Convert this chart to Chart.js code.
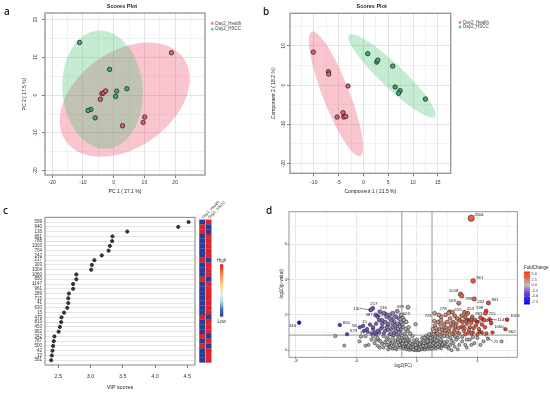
<!DOCTYPE html>
<html lang="en">
<head>
<meta charset="UTF-8">
<title>Scores plots, VIP scores and volcano plot</title>
<script src="https://cdn.jsdelivr.net/npm/chart.js"></script>
<style>
  body { margin: 0; background: #fff; }
  #page { position: relative; width: 550px; height: 394px; overflow: hidden; }
  #page canvas { position: absolute; left: 0; top: 0; }
  .tag { position: absolute; font-family: "Noto Sans", sans-serif; font-size: 10px; font-weight: 500; color: #111; line-height: 1; }
</style>
</head>
<body>
<div id="page">
  <canvas id="chartA" width="550" height="394"></canvas>
  <canvas id="chartB" width="550" height="394"></canvas>
  <canvas id="chartC" width="550" height="394"></canvas>
  <canvas id="chartD" width="550" height="394"></canvas>
  <div class="tag" style="left:4px;top:6px">a</div>
  <div class="tag" style="left:263px;top:6px">b</div>
  <div class="tag" style="left:3px;top:205px">c</div>
  <div class="tag" style="left:266px;top:205px">d</div>
</div>
<script>
// ---- panel a : PCA scores
const aHealthX = [18.8, -3.8, -3.3, -2.6, -4.3, 2.9, 10.1, 9.6];
const aHealthY = [11.2, 0.4, 0.6, 1.1, -1.1, -8.1, -5.8, -7.2];
const aHsccX = [-11.1, -1.3, 1.0, 4.3, 0.65, -7.4, -8.3, -6.0];
const aHsccY = [13.9, 6.8, 1.06, 1.7, -0.35, -3.8, -4.05, -6.0];
// confidence ellipse: centre x, centre y, then two conjugate semi-axes (data units)
const aEllHealth = [3.6, -1.2, 19.15, 10.93, -8.93, 10.4];
const aEllHscc = [-3.6, 1.45, 12.8, 2.26, -2.73, 15.46];

// ---- panel b : PLS-DA scores
const bHealthX = [-10.1, -7.05, -7.0, -3.1, -4.1, -5.3, -3.96, -3.56];
const bHealthY = [8.4, 3.4, 2.8, -0.25, -7.05, -8.15, -8.15, -8.0];
const bHsccX = [0.87, 2.68, 2.9, 5.9, 6.4, 7.4, 7.1, 12.5];
const bHsccY = [8.0, 5.86, 6.37, 4.84, -0.5, -1.44, -2.1, -3.57];
const bEllHealth = [-5.54, -2.25, -4.87, 15.85, 2.5, 1.23];
const bEllHscc = [5.77, 2.34, -8.66, 10.4, 1.62, 2.16];

const groupNames = ['Day2_Health', 'Day2_HSCC'];

// ---- panel c : VIP scores (top 30) and group heat strip
const vipIds = ['599','940','136','861','788','1003','704','242','217','303','1004','1060','850','1147','961',
  '289','715','41','630','15','479','813','453','962','342','787','500','42','33','561'];
const vipScores = [4.52, 4.36, 3.57, 3.34, 3.335, 3.30, 3.28, 3.175, 3.06, 3.02, 3.01, 2.78, 2.78, 2.73, 2.73,
  2.665, 2.655, 2.655, 2.64, 2.59, 2.55, 2.545, 2.525, 2.505, 2.44, 2.43, 2.42, 2.41, 2.40, 2.39];
// 1 = high in Day2_Health (then low in Day2_HSCC), 0 = the other way
const vipHealthHigh = [0,1,1,0,0,0,0,0,1,0,0,0,1,0,0,0,0,0,0,0,1,0,0,0,1,0,1,0,0,0];

// ---- panel d : volcano plot
const volIds = ['2004','961','1018','788','569','242','861','278','656','453','599','715','963','1003','1147',
  '813','1060','962','704','785','25','728','217','130','136','387','500','499','603','850','15','58','673','37','940'];
const volX = [3.59, 3.72, 2.88, 2.97, 2.77, 3.79, 4.73, 2.16, 3.15, 3.37, 4.58, 4.53, 3.66, 5.97, 4.80,
  4.36, 4.91, 5.85, 2.82, 3.59, 4.14, 1.17, -2.92, -3.06, -2.46, -2.73, -2.07, -0.59, -0.94, -5.10, -3.56, -3.78, -4.62, -3.25, -7.79];
const volY = [7.47, 3.92, 3.17, 3.07, 2.66, 2.90, 2.68, 2.18, 2.15, 2.09, 2.22, 2.09, 1.88, 1.73, 1.75,
  1.75, 1.53, 1.19, 1.71, 1.71, 1.05, 2.09, 2.37, 2.28, 2.18, 2.0, 2.05, 2.43, 1.83, 1.43, 1.38, 1.30, 0.91, 1.04, 1.56];
// unlabelled features [log2FC, -log10 p]
const volOther = [
  [-1.4,0.55],[-1.2,0.4],[-1.0,0.3],[-0.8,0.2],[-0.6,0.1],[-0.4,0.05],[-0.2,0.02],[0,0.01],[0.2,0.03],[0.4,0.06],
  [0.6,0.12],[0.8,0.2],[1.0,0.28],[1.2,0.38],[1.4,0.5],[-1.3,0.2],[-1.1,0.15],[-0.9,0.1],[-0.7,0.05],[-0.5,0.02],
  [-0.3,0.12],[-0.1,0.08],[0.1,0.1],[0.3,0.15],[0.5,0.04],[0.7,0.06],[0.9,0.1],[1.1,0.15],[1.3,0.22],[-1.5,0.35],
  [-1.25,0.6],[-1.05,0.5],[-0.85,0.42],[-0.65,0.3],[-0.45,0.22],[-0.25,0.18],[-0.05,0.22],[0.15,0.25],[0.35,0.3],[0.55,0.35],
  [0.75,0.42],[0.95,0.48],[1.15,0.55],[1.35,0.7],[-0.95,0.65],[-0.75,0.55],[-0.55,0.45],[-0.35,0.35],[-0.15,0.4],[0.05,0.42],
  [0.25,0.45],[0.45,0.52],[0.65,0.6],[0.85,0.68],[1.05,0.75],[-0.5,0.6],[0.0,0.6],[0.35,0.68],[-0.2,0.55],[0.6,0.8],
  [-1.6,0.1],[1.6,0.12],[-1.8,0.2],[1.8,0.25],[-0.15,0.0],[0.1,0.0],[-1.35,0.05],[-1.15,0.3],[-0.9,0.25],[-0.6,0.18],
  [-0.35,0.08],[0.05,0.15],[0.3,0.05],[0.5,0.2],[0.75,0.3],[1.0,0.08],[1.25,0.1],[1.5,0.3],[-1.7,0.4],[1.7,0.45],
  [-0.8,0.35],[0.85,0.35],[-0.45,0.4],[0.45,0.4],[-1.0,0.7],[1.0,0.6],[-1.25,0.8],[1.2,0.9],[-0.1,0.3],[0.2,0.35],
  [-1.9,0.3],[-1.75,0.15],[-1.55,0.22],[-1.45,0.12],[-1.25,0.45],[-1.1,0.55],[-0.95,0.38],[-0.7,0.4],[-0.55,0.28],[-0.4,0.15],
  [-0.25,0.05],[-0.05,0.12],[0.15,0.05],[0.25,0.2],[0.4,0.25],[0.6,0.25],[0.7,0.5],[0.9,0.55],[1.1,0.4],[1.25,0.3],
  [1.45,0.15],[1.65,0.3],[1.9,0.4],[2.05,0.2],[1.55,0.45],[-2.1,0.45],[-2.3,0.35],[-1.95,0.7],[-1.55,0.85],[-0.9,0.55],
  [-0.65,0.65],[0.5,0.7],[0.75,0.75],[1.3,0.55],[1.6,0.8],[2.3,0.55],[2.5,0.8],[2.7,0.7],[-2.5,0.55],[-2.7,0.6],
  [-1.6,0.7],[-1.8,0.9],[-2.0,0.6],[-2.2,0.8],[-2.4,0.5],[-2.6,0.7],[-2.8,0.4],[-3.0,0.6],[-1.5,1.0],[-1.7,1.2],
  [-1.9,1.4],[-2.1,1.1],[-2.3,1.3],[-2.5,1.0],[-2.7,0.9],[-1.3,0.9],[-1.1,1.1],[-0.9,1.3],[-1.2,1.45],[-1.4,1.25],
  [-2.0,0.3],[-2.2,0.15],[-1.9,0.05],[-2.6,0.25],[-3.2,0.3],[-3.4,0.8],[-3.7,0.77],[-3.4,0.26],[-4.8,0.26],[-5.4,0.8],
  [-2.9,1.2],[-1.0,0.85],[-0.8,0.95],[-0.6,1.1],[-0.7,0.75],[-1.6,0.45],[-1.8,0.55],[-2.45,0.15],
  [-0.95,1.5],[-0.75,1.2],[-0.55,1.3],[-0.85,1.7],[-0.7,1.6],[-0.45,0.95],[-0.3,0.8],[-3.8,0.5],[-2.9,0.8],
  [1.6,0.6],[1.8,0.8],[2.0,0.5],[2.2,0.7],[2.4,0.4],[2.6,0.6],[2.8,0.3],[3.0,0.5],[1.5,0.9],[1.7,0.35],
  [1.9,0.2],[2.1,0.1],[2.3,0.0],[2.5,0.2],[1.4,0.2],[1.2,0.8],[1.0,0.95],[0.9,0.7],[1.3,1.0],[3.2,0.3],
  [3.5,0.6],[3.8,0.4],[4.0,0.7],[4.4,0.5],[5.6,0.5],[3.3,0.15],[2.7,0.05],[3.0,0.75],[2.2,0.3],[2.0,0.8],
  [1.8,0.45],[4.7,0.65],[3.7,0.75],[4.2,0.3],[-0.09,1.47],[3.3,0.6],[3.6,0.3],[0.8,0.9],
  [-1.2,1.0],[-1.4,1.1],[-1.6,1.3],[-1.1,1.3],[-1.3,1.5],[-1.5,1.6],[-1.7,1.7],[-1.9,1.5],[-2.1,1.6],[-2.3,1.5],
  [-2.5,1.7],[-2.7,1.5],[-2.9,1.3],[-3.1,1.45],[-3.3,1.2],[-2.0,1.9],[-1.8,2.0],[-1.6,2.1],[-1.4,1.9],[-1.2,1.8],
  [-1.05,1.6],[-1.05,2.0],[-1.3,2.2],[-2.2,2.1],[-2.4,1.2],[-2.6,1.1],[-2.8,1.0],[-3.0,0.95],[-1.7,0.95],[-2.2,0.95],
  [-1.9,1.15],[-1.1,1.2],[-1.6,1.5],[-1.45,1.4],[-1.25,1.2],[-1.15,1.35],[-2.3,1.7],[-2.0,1.3],[-1.8,1.8],[-2.6,1.9],
  [-1.5,1.85],[-1.1,1.75],[-3.5,1.1],
  [1.1,0.9],[1.3,1.1],[1.5,1.2],[1.7,1.0],[1.9,1.3],[2.1,1.1],[2.3,1.4],[2.5,1.2],[2.7,1.0],[2.9,1.3],
  [3.1,1.1],[3.3,1.5],[3.5,1.3],[3.7,1.0],[3.9,1.4],[4.1,1.2],[4.3,1.0],[4.5,1.3],[1.2,1.4],[1.4,1.6],
  [1.6,1.7],[1.8,1.5],[2.0,1.6],[2.2,1.8],[2.4,1.6],[2.6,1.5],[2.8,1.7],[3.0,1.6],[3.2,1.9],[3.4,1.7],
  [2.0,0.95],[2.4,0.9],[2.8,0.95],[3.2,0.9],[3.6,0.95],[4.0,0.9],[4.6,0.95],[5.0,1.0],[1.6,1.9],[1.9,2.0],
  [2.1,2.1],[2.5,1.95],[3.6,1.55],[4.0,1.6],[1.35,0.95],[1.75,1.25],[2.55,1.35],[3.05,1.35],[1.05,1.2],[1.15,1.65],
  [1.45,2.0],[2.35,2.15],[3.4,1.0],[4.3,1.45],[1.25,1.25],[1.55,1.45],[1.85,1.1],[2.15,1.25],[2.45,1.05],[2.75,1.25],
  [3.15,1.25],[3.45,1.15],[3.75,1.25],[2.65,1.8],[2.95,1.95],[3.25,1.65],[1.65,1.15],[2.25,1.5],[3.85,1.7],[4.2,1.85],
  [4.45,1.7],[2.3,0.95]
];
const volFcCut = 1;      // |log2FC| lines
const volPCut = 0.85;    // p-value line
const foldTicks = [5.0, 2.5, 0.0, -2.5, -5.0, -7.5];

// ------------------------------------------------------------------
const FONT = '"Liberation Sans", Arial, sans-serif';
Chart.defaults.font.family = FONT;

const frame = {
  id: 'frame',
  afterDraw(chart, args, o) {
    const {ctx, chartArea: a} = chart;
    ctx.save();
    ctx.strokeStyle = o.color;
    ctx.lineWidth = o.width;
    ctx.strokeRect(a.left, a.top, a.right - a.left, a.bottom - a.top);
    ctx.restore();
  }
};

const ellipses = {
  id: 'ellipses',
  beforeDatasetsDraw(chart, args, o) {
    const {ctx, chartArea: a, scales} = chart;
    ctx.save();
    ctx.beginPath();
    ctx.rect(a.left, a.top, a.right - a.left, a.bottom - a.top);
    ctx.clip();
    o.items.forEach(it => {
      const [cx, cy, ux, uy, vx, vy] = it.e;
      ctx.beginPath();
      for (let k = 0; k <= 120; k++) {
        const t = k / 120 * Math.PI * 2;
        const px = scales.x.getPixelForValue(cx + ux * Math.cos(t) + vx * Math.sin(t));
        const py = scales.y.getPixelForValue(cy + uy * Math.cos(t) + vy * Math.sin(t));
        if (k) ctx.lineTo(px, py); else ctx.moveTo(px, py);
      }
      ctx.closePath();
      ctx.fillStyle = it.fill;
      ctx.fill();
    });
    ctx.restore();
  }
};

// free text + legend dots
const notes = {
  id: 'notes',
  afterDraw(chart, args, o) {
    const ctx = chart.ctx;
    (o.items || []).forEach(n => {
      ctx.save();
      ctx.translate(n.x, n.y);
      if (n.dot) {
        ctx.beginPath();
        ctx.arc(0, 0, 1.6, 0, Math.PI * 2);
        ctx.fillStyle = n.dot;
        ctx.fill();
      } else {
        if (n.rot) ctx.rotate(n.rot * Math.PI / 180);
        ctx.font = n.font;
        ctx.fillStyle = n.color || '#222';
        ctx.textAlign = n.align || 'left';
        ctx.textBaseline = 'middle';
        ctx.fillText(n.text, 0, 0);
      }
      ctx.restore();
    });
  }
};

function linAxis(o) {
  const isMajor = v => Math.abs(v / o.major - Math.round(v / o.major)) < 1e-6;
  return {
    type: 'linear', min: o.min, max: o.max, reverse: !!o.reverse,
    ticks: {
      stepSize: o.step, includeBounds: false, autoSkip: false,
      font: {size: o.fs}, color: '#333', padding: o.pad,
      minRotation: o.rot || 0, maxRotation: o.rot || 0, crossAlign: o.cross || 'near',
      callback: o.label || (v => isMajor(v) ? v : '')
    },
    grid: {
      display: true, drawTicks: o.tl > 0, tickLength: o.tl, lineWidth: 0.8,
      color: o.gridFn || (c => o.noGrid ? 'rgba(0,0,0,0)' : (isMajor(c.tick.value) ? o.gMajor : o.gMinor)),
      tickColor: c => isMajor(c.tick.value) ? '#555' : 'rgba(0,0,0,0)'
    },
    border: {display: false},
    title: {display: !!o.title, text: o.title, font: {size: o.tfs}, color: '#222', padding: 0},
    afterFit: s => { if (s.isHorizontal()) s.height = o.size; else s.width = o.size; }
  };
}

const zip = (xs, ys) => xs.map((x, i) => ({x, y: ys[i]}));
const HEALTH = 'rgb(240,88,118)', HSCC = 'rgb(58,178,108)';
const HEALTH_FILL = 'rgba(235,65,98,0.3)', HSCC_FILL = 'rgba(62,188,108,0.3)';

function scoreChart(id, hx, hy, gx, gy, eh, eg, box, xs, ys, titlePos, legendPos) {
  return new Chart(document.getElementById(id), {
    type: 'scatter',
    data: {datasets: [
      {label: groupNames[0], data: zip(hx, hy), backgroundColor: HEALTH, borderColor: '#222', borderWidth: 0.8, pointRadius: 2.2},
      {label: groupNames[1], data: zip(gx, gy), backgroundColor: HSCC, borderColor: '#222', borderWidth: 0.8, pointRadius: 2.2}
    ]},
    options: {
      responsive: false, animation: false, devicePixelRatio: 1, events: [],
      layout: {padding: box},
      plugins: {
        legend: {display: false}, tooltip: {enabled: false},
        frame: {color: '#9a9a9a', width: 1.4},
        ellipses: {items: [{e: eh, fill: HEALTH_FILL}, {e: eg, fill: HSCC_FILL}]},
        notes: {items: [
          {text: 'Scores Plot', x: titlePos[0], y: titlePos[1], font: 'bold 5.5px ' + FONT, align: 'center'},
          {dot: 'rgb(250,135,160)', x: legendPos[0], y: legendPos[1]},
          {dot: 'rgb(110,210,150)', x: legendPos[0], y: legendPos[2]},
          {text: groupNames[0], x: legendPos[0] + 3, y: legendPos[1], font: '4.5px ' + FONT, color: '#444'},
          {text: groupNames[1], x: legendPos[0] + 3, y: legendPos[2], font: '4.5px ' + FONT, color: '#444'}
        ]}
      },
      scales: {x: linAxis(xs), y: linAxis(ys)}
    },
    plugins: [ellipses, frame, notes]
  });
}

scoreChart('chartA', aHealthX, aHealthY, aHsccX, aHsccY, aEllHealth, aEllHscc,
  {left: 22, top: 13, right: 345, bottom: 199},
  {min: -22.3, max: 29.7, step: 5, major: 10, fs: 5, pad: 1.2, tl: 3, gMajor: '#dcdcdc', gMinor: '#eeeeee', title: 'PC 1 ( 27.1 %)', tfs: 5, size: 20},
  {min: -21.1, max: 21.7, step: 5, major: 10, fs: 5, pad: 3, tl: 3, rot: 90, cross: 'center', gMajor: '#dcdcdc', gMinor: '#eeeeee', title: 'PC 2 ( 17.5 %)', tfs: 5, size: 23},
  [122, 6], [212.3, 23.3, 29]);

scoreChart('chartB', bHealthX, bHealthY, bHsccX, bHsccY, bEllHealth, bEllHscc,
  {left: 270.3, top: 13.3, right: 99.3, bottom: 199.3},
  {min: -14.8, max: 17.6, step: 2.5, major: 5, fs: 5, pad: 2.9, tl: 3, gMajor: '#dcdcdc', gMinor: '#eeeeee', title: 'Component 1 ( 21.5 %)', tfs: 5, size: 21.4},
  {min: -22.5, max: 18.3, step: 5, major: 10, fs: 5, pad: 0, tl: 3, rot: 90, cross: 'center', gMajor: '#dcdcdc', gMinor: '#eeeeee', title: 'Component 2 ( 18.2 %)', tfs: 5, size: 19.7},
  [371.7, 6], [460, 22.3, 26.9]);

// ---- panel c
const heatStrip = {
  id: 'heatStrip',
  afterDraw(chart) {
    const {ctx, chartArea: a, scales: {y}} = chart;
    const cols = [a.right + 4.3, a.right + 10.7];
    ctx.save();
    vipHealthHigh.forEach((h, i) => {
      const y0 = y.getPixelForValue(i - 0.5), y1 = y.getPixelForValue(i + 0.5);
      [h, 1 - h].forEach((v, c) => {
        ctx.fillStyle = v ? '#e0202a' : '#2a3a9c';
        ctx.fillRect(cols[c], y0, 5.7, y1 - y0);
        ctx.strokeStyle = 'rgba(90,90,90,0.6)';
        ctx.lineWidth = 0.3;
        ctx.strokeRect(cols[c], y0, 5.7, y1 - y0);
      });
    });
    // colour key
    const g = ctx.createLinearGradient(0, 264.3, 0, 316.7);
    ['#d7191c', '#f46d43', '#fdae61', '#fee090', '#e0f3f8', '#abd9e9', '#4575b4', '#313695']
      .forEach((c, k, arr) => g.addColorStop(k / (arr.length - 1), c));
    ctx.fillStyle = g;
    ctx.fillRect(220, 264.3, 3.3, 52.4);
    ctx.restore();
  }
};

new Chart(document.getElementById('chartC'), {
  type: 'scatter',
  data: {datasets: [{data: vipScores.map((v, i) => ({x: v, y: i})), backgroundColor: '#333', borderColor: '#333', pointRadius: 1.6}]},
  options: {
    responsive: false, animation: false, devicePixelRatio: 1, events: [],
    layout: {padding: {left: 10, top: 217.3, right: 355, bottom: 3}},
    plugins: {
      legend: {display: false}, tooltip: {enabled: false},
      frame: {color: '#777', width: 0.9},
      notes: {items: [
        {text: groupNames[0], x: 202.5, y: 218, rot: -45, font: '4px ' + FONT, color: '#333'},
        {text: groupNames[1], x: 208.8, y: 218, rot: -45, font: '4px ' + FONT, color: '#333'},
        {text: 'High', x: 221.7, y: 260.7, font: '4.5px ' + FONT, align: 'center', color: '#333'},
        {text: 'Low', x: 221.7, y: 321.7, font: '4.5px ' + FONT, align: 'center', color: '#333'}
      ]}
    },
    scales: {
      x: linAxis({min: 2.294, max: 4.62, step: 0.5, major: 0.5, fs: 5.5, pad: 5, tl: 3, noGrid: true,
        label: v => v.toFixed(1), title: 'VIP scores', tfs: 5.5, size: 26}),
      y: linAxis({min: -1, max: 30, step: 1, major: 1, reverse: true, fs: 4.5, pad: 3, tl: 0,
        gridFn: c => (c.tick.value < 0 || c.tick.value > 29) ? 'rgba(0,0,0,0)' : '#dedede',
        label: v => vipIds[v] || '', size: 35})
    }
  },
  plugins: [frame, heatStrip, notes]
});

// ---- panel d
function mix(a, b, t) { return a.map((v, k) => Math.round(v + (b[k] - v) * t)); }
function ramp(stops, t) {
  for (let k = 1; k < stops.length; k++) {
    if (t <= stops[k][0]) return mix(stops[k - 1][1], stops[k][1], (t - stops[k - 1][0]) / (stops[k][0] - stops[k - 1][0]));
  }
  return stops[stops.length - 1][1];
}
const LOW = [[0, [190, 190, 190]], [0.35, [125, 90, 200]], [1, [10, 10, 255]]];
const HIGH = [[0, [190, 190, 190]], [0.5, [228, 105, 78]], [1, [255, 45, 25]]];
function fcColour(fc) {
  const c = fc < 0 ? ramp(LOW, Math.min(1, -fc / 7.8)) : ramp(HIGH, Math.min(1, fc / 6));
  return 'rgb(' + c.join(',') + ')';
}
function volColour(x, y) {
  return (y < volPCut || Math.abs(x) < volFcCut) ? 'rgb(175,175,175)' : fcColour(x);
}

const volLabelPos = {
  '2004': [3, -3, 'left'], '961': [3, -3, 'left'], '1018': [-2, -3, 'right'], '788': [3, 3, 'left'],
  '569': [-3, -2, 'right'], '242': [3, 3, 'left'], '861': [3, -3, 'left'], '278': [-3, -2.5, 'right'],
  '656': [-3, -2.5, 'right'], '453': [-1, -4, 'left'], '599': [-3, -3, 'right'], '715': [3, 1, 'left'],
  '963': [3, -3, 'left'], '1003': [3, -4, 'left'], '1147': [8, 0.5, 'left', 1], '813': [3, 2, 'left'],
  '1060': [3, 3.5, 'left'], '962': [3, 3, 'left'], '704': [3, 0, 'left'], '785': [3, 2, 'left'],
  '25': [14, 10, 'left', 1], '728': [-3, 3, 'right'], '217': [-2.5, -5, 'left'], '130': [-10, -1.5, 'right', 1],
  '136': [0, -3.5, 'left'], '387': [-3, 0, 'right'], '500': [-3, 1.5, 'right'], '499': [-4, 0, 'right'],
  '603': [0, -4, 'left'], '850': [3, -2.5, 'left'], '15': [-1, -4, 'left'], '58': [-3, -1, 'right'],
  '673': [3, -3, 'left'], '37': [-3, 1, 'right'], '940': [-3, 3, 'right']
};

const volDecor = {
  id: 'volDecor',
  beforeDatasetsDraw(chart) {
    const {ctx, chartArea: a, scales: {x, y}} = chart;
    ctx.save();
    ctx.strokeStyle = '#a8a8a8';
    ctx.lineWidth = 1.2;
    [-volFcCut, volFcCut].forEach(v => {
      const px = x.getPixelForValue(v);
      ctx.beginPath(); ctx.moveTo(px, a.top); ctx.lineTo(px, a.bottom); ctx.stroke();
    });
    const py = y.getPixelForValue(volPCut);
    ctx.beginPath(); ctx.moveTo(a.left, py); ctx.lineTo(a.right, py); ctx.stroke();
    ctx.restore();
  },
  afterDatasetsDraw(chart) {
    const {ctx, scales: {x, y}} = chart;
    ctx.save();
    ctx.font = '4.3px ' + FONT;
    ctx.fillStyle = '#222';
    ctx.textBaseline = 'middle';
    volIds.forEach((id, i) => {
      const px = x.getPixelForValue(volX[i]), py = y.getPixelForValue(volY[i]);
      const p = volLabelPos[id] || [3, -3, 'left'];
      if (p[3]) {
        ctx.strokeStyle = '#222'; ctx.lineWidth = 0.5;
        ctx.beginPath(); ctx.moveTo(px, py); ctx.lineTo(px + p[0] + (p[2] === 'right' ? 0.5 : -0.5), py + p[1]); ctx.stroke();
      }
      ctx.textAlign = p[2];
      ctx.fillText(id, px + p[0], py + p[1]);
    });
    // FoldChange colour key
    ctx.textAlign = 'left';
    ctx.font = '4.5px ' + FONT;
    ctx.fillText('FoldChange', 524, 267.7);
    const top = 271.5, bot = 304.5;
    const vy = v => 274 + (5 - v) * 28 / 12.5;
    const g = ctx.createLinearGradient(0, top, 0, bot);
    for (let v = 5.7; v >= -8.2; v -= 0.5) g.addColorStop((vy(v) - top) / (bot - top), fcColour(v));
    ctx.fillStyle = g;
    ctx.fillRect(524, top, 6, bot - top);
    ctx.font = '3.8px ' + FONT;
    ctx.fillStyle = '#333';
    foldTicks.forEach(v => {
      ctx.strokeStyle = '#fff'; ctx.lineWidth = 0.4;
      ctx.beginPath(); ctx.moveTo(524, vy(v)); ctx.lineTo(525.2, vy(v)); ctx.moveTo(528.8, vy(v)); ctx.lineTo(530, vy(v)); ctx.stroke();
      ctx.fillText(v.toFixed(1), 531.5, vy(v));
    });
    ctx.restore();
  }
};

const volPointStyle = {
  backgroundColor: c => volColour(c.raw.x, c.raw.y),
  borderColor: '#1a1a1a', borderWidth: 0.5,
  pointRadius: c => 1.5 + 0.22 * c.raw.y
};

new Chart(document.getElementById('chartD'), {
  type: 'scatter',
  data: {datasets: [
    Object.assign({data: volOther.map(p => ({x: p[0], y: p[1]}))}, volPointStyle),
    Object.assign({data: zip(volX, volY)}, volPointStyle)
  ]},
  options: {
    responsive: false, animation: false, devicePixelRatio: 1, events: [],
    layout: {padding: {left: 279, top: 211.7, right: 32.7, bottom: 25.8}},
    plugins: {legend: {display: false}, tooltip: {enabled: false}, frame: {color: '#8a8a8a', width: 0.9}},
    scales: {
      x: linAxis({min: -8.46, max: 6.64, step: 2, major: 4, fs: 4, pad: 0, tl: 1.5, gMajor: '#e2e2e2', gMinor: '#f0f0f0', title: 'log2(FC)', tfs: 4.5, size: 10.9}),
      y: linAxis({min: -0.4, max: 7.84, step: 1, major: 2, fs: 4, pad: 0.5, tl: 1.5, gMajor: '#e2e2e2', gMinor: '#f0f0f0', title: '-log10(p-value)', tfs: 4.5, size: 10})
    }
  },
  plugins: [volDecor, frame]
});
</script>
</body>
</html>
